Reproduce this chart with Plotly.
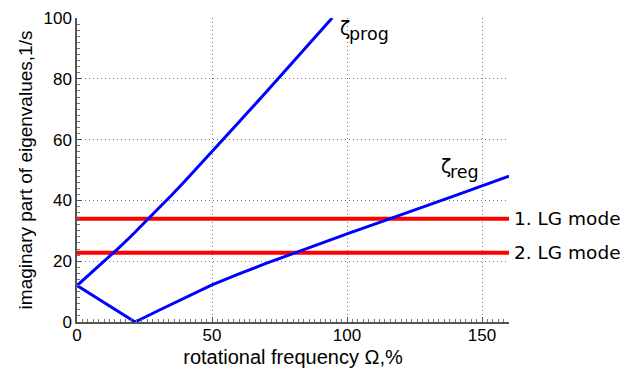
import plotly.graph_objects as go

# data
omega_prog = [0, 5, 10, 15, 20, 25, 30, 35, 40, 45, 50, 55, 60, 70, 80, 90, 94.5]
zeta_prog = [12, 15.9, 19.9, 24.0, 28.2, 32.6, 37.1, 41.7, 46.4, 51.2, 56.0, 60.9, 65.8, 75.6, 85.5, 95.5, 100]
omega_reg = [0, 5, 10, 15, 21.5, 30, 40, 50, 60, 70, 80, 90, 100, 110, 120, 130, 140, 150, 160]
zeta_reg = [12, 9.2, 6.4, 3.5, 0, 3.7, 8.0, 12.2, 15.8, 19.3, 22.5, 25.8, 29.0, 32.1, 35.2, 38.4, 41.6, 44.8, 48.0]
lg_labels = ["1. LG mode", "2. LG mode"]
lg_values = [34, 22.8]
x_range = [0, 160]
x_ticks = [0, 50, 100, 150]
y_ticks = [0, 20, 40, 60, 80, 100]

fig = go.Figure()
for v in lg_values:
    fig.add_trace(go.Scatter(x=x_range, y=[v, v], mode="lines",
                             line=dict(color="#ff0000", width=4), showlegend=False))
fig.add_trace(go.Scatter(x=omega_prog, y=zeta_prog, mode="lines",
                         line=dict(color="#0000ff", width=3), showlegend=False))
fig.add_trace(go.Scatter(x=omega_reg, y=zeta_reg, mode="lines",
                         line=dict(color="#0000ff", width=3), showlegend=False))

ann_font = dict(family="DejaVu Sans", size=18.5, color="black")
for lab, v in zip(lg_labels, lg_values):
    fig.add_annotation(x=1.006, xref="paper", y=v, yref="y", text=lab, showarrow=False,
                       xanchor="left", yanchor="middle", font=ann_font)

fig.add_annotation(x=96.8, y=96.7, text="ζ", showarrow=False, xanchor="left",
                   yanchor="middle", font=dict(family="DejaVu Sans", size=19, color="black"))
fig.add_annotation(x=99.9, y=94.8, text="prog", showarrow=False, xanchor="left",
                   yanchor="middle", font=dict(family="DejaVu Sans", size=17.5, color="black"))
fig.add_annotation(x=134.0, y=51.2, text="ζ", showarrow=False, xanchor="left",
                   yanchor="middle", font=dict(family="DejaVu Sans", size=19, color="black"))
fig.add_annotation(x=137.4, y=49.2, text="reg", showarrow=False, xanchor="left",
                   yanchor="middle", font=dict(family="DejaVu Sans", size=17.5, color="black"))

axis_common = dict(
    showline=True, linecolor="#555555", linewidth=1.5, mirror=False,
    ticks="inside", ticklen=5, tickcolor="#555555", tickwidth=1,
    showgrid=True, gridcolor="#777777", griddash="1px,3px", gridwidth=1,
    zeroline=False,
    tickfont=dict(family="Liberation Sans, Arial", size=17, color="black"),
)

fig.update_xaxes(range=x_range, tickvals=x_ticks, **axis_common,
                 ticklabelstandoff=-3,
                 minor=dict(ticks="inside", ticklen=3, tickcolor="#777777", dtick=2, showgrid=False),
                 title=dict(text="rotational frequency Ω,%", standoff=6,
                            font=dict(family="Liberation Sans, Arial", size=20, color="black")),
                 automargin=False)
fig.update_yaxes(range=[0, 100], tickvals=y_ticks, **axis_common,
                 minor=dict(ticks="inside", ticklen=3, tickcolor="#777777", dtick=2, showgrid=False),
                 title=dict(text="imaginary part of eigenvalues,1/s", standoff=6,
                            font=dict(family="Liberation Sans, Arial", size=19, color="black")),
                 automargin=False)

fig.update_layout(
    width=625, height=369,
    margin=dict(l=77, r=116, t=18, b=47),
    paper_bgcolor="white", plot_bgcolor="white",
    showlegend=False,
)

fig.write_html("out.html", config={"displayModeBar": False},
               post_script="document.body.style.margin='0';document.body.style.overflow='hidden';")
